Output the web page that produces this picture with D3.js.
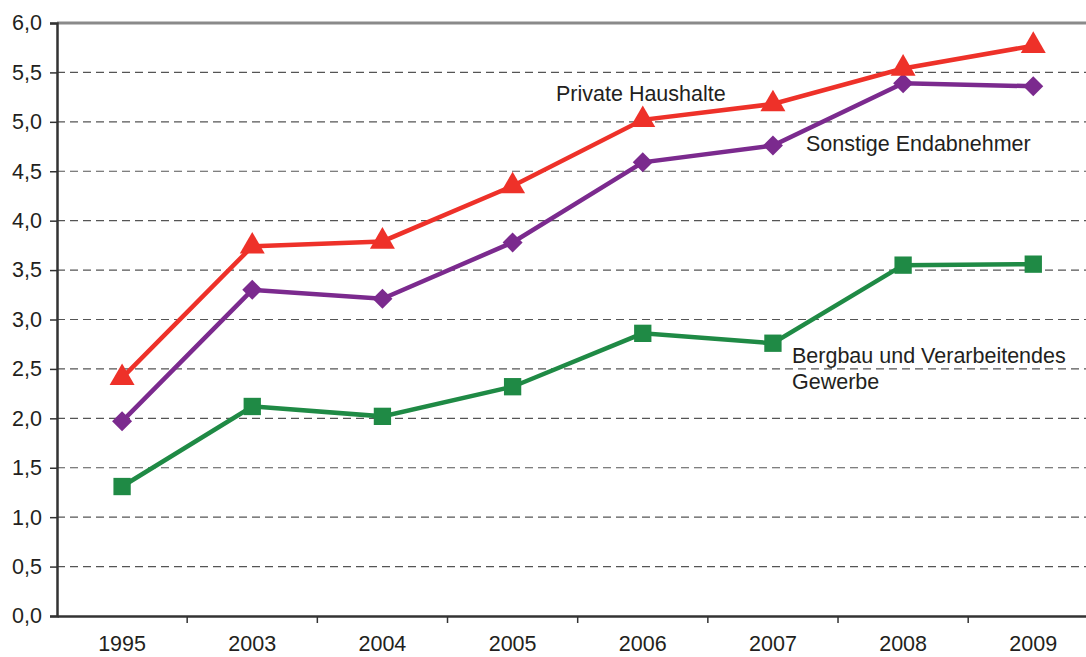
<!DOCTYPE html>
<html lang="de">
<head>
<meta charset="UTF-8">
<title>Entwicklung nach Abnehmergruppen</title>
<script src="https://d3js.org/d3.v7.min.js"></script>
<style>
  body { margin: 0; background: #fff; }
  text { font-family: Arial, "Liberation Sans", sans-serif; fill: #231f20; }
</style>
</head>
<body>
<div id="chart"></div>
<script>
// Daten
const years = ["1995", "2003", "2004", "2005", "2006", "2007", "2008", "2009"];
const privateHaushalte = [2.41, 3.74, 3.79, 4.35, 5.02, 5.18, 5.54, 5.77];
const sonstigeEndabnehmer = [1.97, 3.30, 3.21, 3.78, 4.59, 4.76, 5.39, 5.36];
const bergbauGewerbe = [1.31, 2.12, 2.02, 2.32, 2.86, 2.76, 3.55, 3.56];
const yTicks = [0, 0.5, 1, 1.5, 2, 2.5, 3, 3.5, 4, 4.5, 5, 5.5, 6];

const width = 1086, height = 657;
const margin = {top: 23, left: 57, bottom: 41};
const fs = 21.5;

const svg = d3.select("#chart").append("svg")
  .attr("width", width).attr("height", height);

const x = d3.scaleBand().domain(years)
  .range([margin.left, margin.left + 8 * 130.17]);
const y = d3.scaleLinear().domain([0, 6]).range([height - margin.bottom, margin.top]);
const fmt = d => d.toFixed(1).replace(".", ",");

// Gitterlinien
svg.selectAll(".grid").data(yTicks.filter(t => t > 0 && t < 6)).enter()
  .append("line")
  .attr("x1", margin.left).attr("x2", width)
  .attr("y1", d => y(d)).attr("y2", d => y(d))
  .attr("stroke", "#555").attr("stroke-width", 1.2)
  .attr("stroke-dasharray", "8,5");

// obere Linie
svg.append("line")
  .attr("x1", margin.left).attr("x2", width)
  .attr("y1", y(6)).attr("y2", y(6))
  .attr("stroke", "#8a8a8a").attr("stroke-width", 3);

// y-Achse
const yAxis = svg.append("g")
  .attr("transform", `translate(${margin.left},0)`)
  .call(d3.axisLeft(y).tickValues(yTicks).tickFormat(fmt).tickSize(7).tickPadding(8));
yAxis.select(".domain").attr("stroke", "#333").attr("stroke-width", 2.5);
yAxis.selectAll(".tick line").attr("stroke", "#333").attr("stroke-width", 1.5);
yAxis.selectAll(".tick text").attr("font-size", fs).attr("fill", "#231f20");

// x-Achse
const xAxis = svg.append("g")
  .attr("transform", `translate(0,${y(0)})`)
  .call(d3.axisBottom(x).tickSize(0).tickPadding(20));
xAxis.select(".domain").attr("stroke", "#333").attr("stroke-width", 2.5);
xAxis.selectAll(".tick text").attr("font-size", fs).attr("fill", "#231f20");
svg.selectAll(".xtick").data(years.slice(1)).enter()
  .append("line")
  .attr("x1", d => x(d)).attr("x2", d => x(d))
  .attr("y1", y(0)).attr("y2", y(0) + 7)
  .attr("stroke", "#333").attr("stroke-width", 1.5);

const cx = d => x(d) + x.bandwidth() / 2;

const series = [
  {values: bergbauGewerbe, color: "#1f8a45", symbol: d3.symbolSquare, size: 300, rot: 0},
  {values: sonstigeEndabnehmer, color: "#7b2a8e", symbol: d3.symbolSquare, size: 200, rot: 45},
  {values: privateHaushalte, color: "#ee3129", symbol: d3.symbolTriangle, size: 270, rot: 0}
];

series.forEach(s => {
  const pts = years.map((yr, i) => [cx(yr), y(s.values[i])]);
  svg.append("path")
    .attr("d", d3.line()(pts))
    .attr("fill", "none").attr("stroke", s.color).attr("stroke-width", 4.5);
  svg.selectAll(null).data(pts).enter()
    .append("path")
    .attr("d", d3.symbol().type(s.symbol).size(s.size))
    .attr("transform", d => `translate(${d[0]},${d[1]}) rotate(${s.rot})`)
    .attr("fill", s.color);
});

// Beschriftungen
const labels = [
  {text: ["Private Haushalte"], x: 556, y: 101},
  {text: ["Sonstige Endabnehmer"], x: 806, y: 151},
  {text: ["Bergbau und Verarbeitendes", "Gewerbe"], x: 792, y: 363}
];
labels.forEach(l => {
  const t = svg.append("text").attr("x", l.x).attr("y", l.y).attr("font-size", fs);
  t.selectAll("tspan").data(l.text).enter().append("tspan")
    .attr("x", l.x).attr("dy", (d, i) => i === 0 ? 0 : 26).text(d => d);
});
</script>
</body>
</html>
